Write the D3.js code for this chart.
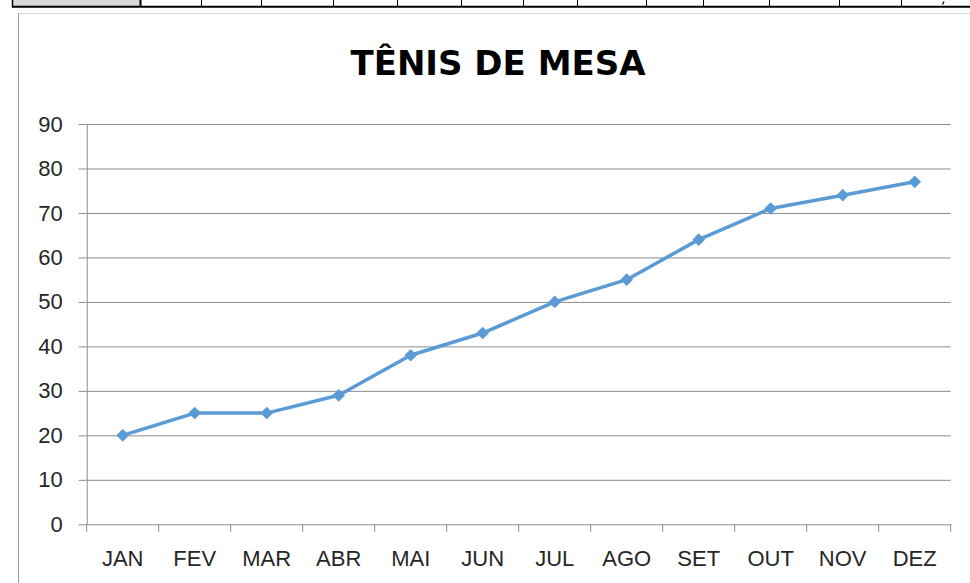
<!DOCTYPE html>
<html>
<head>
<meta charset="utf-8">
<script src="https://cdn.jsdelivr.net/npm/d3@7"></script>
<style>
  html, body { margin: 0; padding: 0; background: #fff; }
  svg { display: block; }
</style>
</head>
<body>
<svg id="chart" width="970" height="583"></svg>
<script>
// Monthly values for the table-tennis series
const months = ["JAN", "FEV", "MAR", "ABR", "MAI", "JUN", "JUL", "AGO", "SET", "OUT", "NOV", "DEZ"];
const values = [20, 25, 25, 29, 38, 43, 50, 55, 64, 71, 74, 77];
const yTicks = [0, 10, 20, 30, 40, 50, 60, 70, 80, 90];
const chartTitle = "TÊNIS DE MESA";

// Spreadsheet column dividers visible above the chart object
const sheetColumns = [140, 201, 261, 333, 397, 461, 523, 577, 646, 703, 769, 839, 901];

const svg = d3.select("#chart");
const W = 970, H = 583;

// ---- worksheet strip behind the chart ----
const sheet = svg.append("g");
sheet.append("rect").attr("x", 12).attr("y", 0).attr("width", 128).attr("height", 6)
  .attr("fill", "#d9d9d9");
sheet.append("line").attr("x1", 12.5).attr("x2", 12.5).attr("y1", 0).attr("y2", 7.5)
  .attr("stroke", "#000").attr("stroke-width", 1.5);
sheet.selectAll("line.col").data(sheetColumns).join("line")
  .attr("class", "col")
  .attr("x1", d => d + 0.5).attr("x2", d => d + 0.5)
  .attr("y1", 0).attr("y2", 7)
  .attr("stroke", "#000").attr("stroke-width", (d, i) => i === 0 ? 2 : 1);
sheet.append("line").attr("x1", 12).attr("x2", W).attr("y1", 6.7).attr("y2", 6.7)
  .attr("stroke", "#000").attr("stroke-width", 2);
// fragment of cell content at the right edge of the row
sheet.append("line").attr("x1", 944).attr("y1", 1.5).attr("x2", 942.5).attr("y2", 4.5)
  .attr("stroke", "#000").attr("stroke-width", 1.2);

// ---- chart frame ----
svg.append("rect").attr("x", 18.5).attr("y", 13.5).attr("width", W + 10).attr("height", H + 10)
  .attr("fill", "#fff").attr("stroke", "#d9d9d9").attr("stroke-width", 1);
svg.append("line").attr("x1", 18.5).attr("x2", 18.5).attr("y1", 13).attr("y2", H)
  .attr("stroke", "#9a9a9a").attr("stroke-width", 1);

// ---- plot area ----
const plot = { left: 86.7, right: 950.7, top: 124, bottom: 524.3 };

const x = d3.scaleBand().domain(months).range([plot.left, plot.right]).padding(0);
const y = d3.scaleLinear().domain([0, 90]).range([plot.bottom, plot.top]);

const labelFont = "'Liberation Sans', Arial, sans-serif";
const gridColor = "#8c8c8c";

// horizontal gridlines
svg.append("g")
  .attr("transform", `translate(${plot.left},0)`)
  .call(d3.axisRight(y).tickValues(yTicks.filter(d => d > 0)).tickSize(plot.right - plot.left).tickFormat(""))
  .call(g => g.select(".domain").remove())
  .call(g => g.selectAll(".tick line").attr("stroke", gridColor).attr("stroke-width", 1));

// value axis with outer tick marks and labels
svg.append("g")
  .attr("transform", `translate(${plot.left},0)`)
  .call(d3.axisLeft(y).tickValues(yTicks).tickSize(8).tickPadding(16).tickSizeOuter(0))
  .call(g => g.select(".domain").attr("stroke", gridColor))
  .call(g => g.selectAll(".tick line").attr("stroke", gridColor))
  .call(g => g.selectAll(".tick text")
    .attr("font-family", labelFont).attr("font-size", 22).attr("fill", "#262626"));

// category axis: line, boundary ticks and month labels
const xAxis = svg.append("g").attr("transform", `translate(0,${plot.bottom})`);
xAxis.call(d3.axisBottom(x).tickSize(0).tickPadding(26))
  .call(g => g.select(".domain").attr("stroke", gridColor))
  .call(g => g.selectAll(".tick text")
    .attr("font-family", labelFont).attr("font-size", 22).attr("fill", "#262626"));
const boundaries = months.map(m => x(m)).concat([x.range()[1]]);
xAxis.selectAll("line.boundary").data(boundaries).join("line")
  .attr("class", "boundary")
  .attr("x1", d => d).attr("x2", d => d)
  .attr("y1", 0).attr("y2", 7.5)
  .attr("stroke", gridColor).attr("stroke-width", 1);

// ---- series ----
const cx = (d, i) => x(months[i]) + x.bandwidth() / 2;
const lineColor = "#5b9bd5";

svg.append("path")
  .datum(values)
  .attr("fill", "none")
  .attr("stroke", lineColor)
  .attr("stroke-width", 3.5)
  .attr("stroke-linejoin", "round")
  .attr("stroke-linecap", "round")
  .attr("d", d3.line().x(cx).y(d => y(d)));

// diamond markers
svg.append("g").selectAll("path").data(values).join("path")
  .attr("transform", (d, i) => `translate(${cx(d, i)},${y(d)}) rotate(45)`)
  .attr("d", d3.symbol(d3.symbolSquare, 80))
  .attr("fill", lineColor);

// ---- title ----
svg.append("text")
  .attr("x", 498)
  .attr("y", 75)
  .attr("text-anchor", "middle")
  .attr("font-family", "'DejaVu Sans', sans-serif")
  .attr("font-weight", "bold")
  .attr("font-size", 34)
  .attr("fill", "#000")
  .text(chartTitle);
</script>
</body>
</html>
